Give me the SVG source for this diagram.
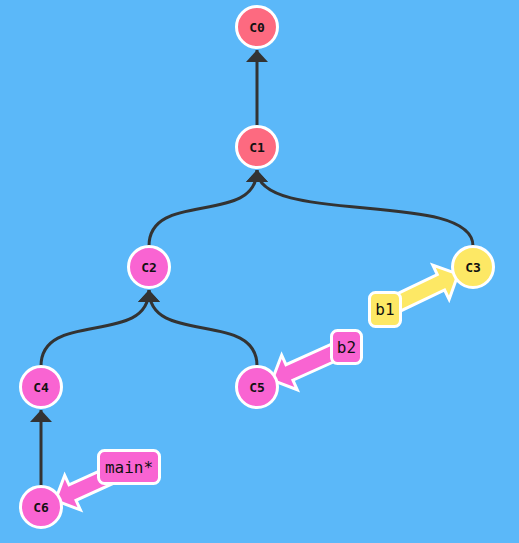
<svg xmlns="http://www.w3.org/2000/svg" width="519" height="543" viewBox="0 0 519 543">
<style>
.edge{fill:none;stroke:#333;stroke-width:3}
.node circle{stroke:#fff;stroke-width:3}
.red{fill:#fd6a80}.pink{fill:#f964d2}.yellow{fill:#fde865}
.nl{font-family:"DejaVu Sans Mono",monospace;font-weight:bold;font-size:13px;fill:#111;text-anchor:middle;dominant-baseline:central}
.bl{font-family:"DejaVu Sans Mono",monospace;font-size:16px;fill:#111;text-anchor:middle;dominant-baseline:central}
.box{stroke:#fff;stroke-width:3}
.barrow{stroke:#fff;stroke-width:3;stroke-linejoin:miter}
</style>
<defs>
<marker id="ah" markerUnits="userSpaceOnUse" markerWidth="12" markerHeight="22" viewBox="0 -11 12 22" refX="12" refY="0" orient="auto">
<path d="M0,-11 L12,0 L0,11 z" fill="#333"/>
</marker>
<polygon id="bar" points="0,-8.5 62,-8.5 62,-19 81,0 62,19 62,8.5 0,8.5"/>
</defs>
<rect width="519" height="543" fill="#5bb8f9"/>
<g id="connectors">
<path class="edge" d="M257,126 L257,50" marker-end="url(#ah)"/>
<path class="edge" d="M149,246 C149,189 257,227 257,170" marker-end="url(#ah)"/>
<path class="edge" d="M473,246 C473,189 257,227 257,170" marker-end="url(#ah)"/>
<path class="edge" d="M41,366 C41,309 149,347 149,290" marker-end="url(#ah)"/>
<path class="edge" d="M257,366 C257,309 149,347 149,290" marker-end="url(#ah)"/>
<path class="edge" d="M41,486 L41,410" marker-end="url(#ah)"/>
</g>
<g id="branch-arrows">
<use href="#bar" class="barrow yellow" transform="translate(385,309) rotate(-25.5)"/>
<use href="#bar" class="barrow pink" transform="translate(346,347) rotate(155.8)"/>
<use href="#bar" class="barrow pink" transform="translate(129,467) rotate(155.6)"/>
</g>
<g id="C0" class="node"><circle class="red" cx="257" cy="27" r="20.5"/><text class="nl" x="257" y="27">C0</text></g>
<g id="C1" class="node"><circle class="red" cx="257" cy="147" r="20.5"/><text class="nl" x="257" y="147">C1</text></g>
<g id="C2" class="node"><circle class="pink" cx="149" cy="267" r="20.5"/><text class="nl" x="149" y="267">C2</text></g>
<g id="C3" class="node"><circle class="yellow" cx="473" cy="267" r="20.5"/><text class="nl" x="473" y="267">C3</text></g>
<g id="C4" class="node"><circle class="pink" cx="41" cy="387" r="20.5"/><text class="nl" x="41" y="387">C4</text></g>
<g id="C5" class="node"><circle class="pink" cx="257" cy="387" r="20.5"/><text class="nl" x="257" y="387">C5</text></g>
<g id="C6" class="node"><circle class="pink" cx="41" cy="507" r="20.5"/><text class="nl" x="41" y="507">C6</text></g>
<g id="b1"><rect class="box yellow" x="369.5" y="292.5" width="31" height="34" rx="6"/><text class="bl" x="385" y="309.5">b1</text></g>
<g id="b2"><rect class="box pink" x="331.5" y="330.5" width="30" height="33" rx="6"/><text class="bl" x="346.5" y="347">b2</text></g>
<g id="main"><rect class="box pink" x="98.5" y="450.5" width="61" height="33" rx="6"/><text class="bl" x="129" y="467">main*</text></g>
</svg>
